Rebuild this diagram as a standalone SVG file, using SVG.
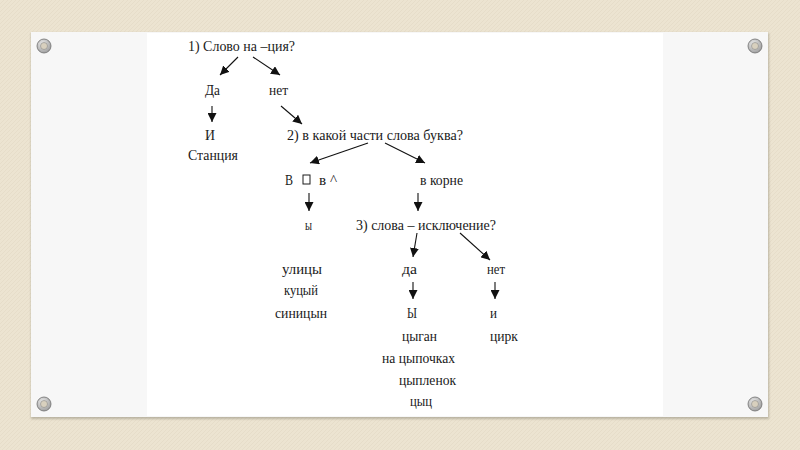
<svg xmlns="http://www.w3.org/2000/svg" width="800" height="450" viewBox="0 0 800 450">
<defs>
<pattern id="canvas" width="4" height="4" patternUnits="userSpaceOnUse">
<rect width="4" height="4" fill="#ece4d1"/>
<path d="M0,4 L4,0" stroke="#e5dcc6" stroke-width="0.8"/>
</pattern>
<radialGradient id="grom" cx="0.4" cy="0.35" r="0.7">
<stop offset="0" stop-color="#eeeeee"/>
<stop offset="1" stop-color="#9a9a9a"/>
</radialGradient>
<marker id="ah" viewBox="0 0 10 10" refX="10" refY="5" markerWidth="9" markerHeight="9" markerUnits="userSpaceOnUse" orient="auto">
<path d="M0,0 L10,5 L0,10 z" fill="#111"/>
</marker>
<filter id="sh" x="-5%" y="-5%" width="110%" height="115%">
<feGaussianBlur stdDeviation="1.2"/>
</filter>
</defs>
<style>
text{font-family:"Liberation Serif","Times New Roman",serif;font-size:14.5px;fill:#1a1a1a}
.c line{stroke:#111;stroke-width:1.1;marker-end:url(#ah)}
.g1{fill:url(#grom);stroke:#6f6f6f;stroke-width:0.8}
.g2{fill:#d8d0be;stroke:#8a8a8a;stroke-width:0.6}
</style>
<rect width="800" height="450" fill="url(#canvas)"/>
<rect x="31" y="33" width="738" height="386" fill="#9a9484" opacity="0.6" filter="url(#sh)"/>
<rect x="31" y="32" width="737" height="385" fill="#f7f7f7"/>
<rect x="147" y="33" width="516" height="383" fill="#ffffff"/>
<g id="grommets">
<circle class="g1" cx="44" cy="46" r="7"/><circle class="g2" cx="44" cy="46" r="3.5"/>
<circle class="g1" cx="755" cy="46" r="7"/><circle class="g2" cx="755" cy="46" r="3.5"/>
<circle class="g1" cx="44" cy="404" r="7"/><circle class="g2" cx="44" cy="404" r="3.5"/>
<circle class="g1" cx="755" cy="404" r="7"/><circle class="g2" cx="755" cy="404" r="3.5"/>
</g>
<g id="q1"><text x="188" y="51" textLength="107" lengthAdjust="spacingAndGlyphs">1) Слово на –ция?</text></g>
<g id="da1"><text x="205" y="95" textLength="15" lengthAdjust="spacingAndGlyphs">Да</text></g>
<g id="net1"><text x="269" y="95" textLength="19" lengthAdjust="spacingAndGlyphs">нет</text></g>
<g id="i1"><text x="205" y="140" textLength="10" lengthAdjust="spacingAndGlyphs">И</text>
<text x="188" y="160" textLength="50" lengthAdjust="spacingAndGlyphs">Станция</text></g>
<g id="q2"><text x="287" y="140" textLength="176" lengthAdjust="spacingAndGlyphs">2) в какой части слова буква?</text></g>
<g id="suffix"><text x="285" y="185" textLength="8" lengthAdjust="spacingAndGlyphs">В</text>
<rect x="303" y="175" width="7" height="9" fill="none" stroke="#1c1c1c" stroke-width="1"/>
<text x="319" y="185" textLength="18" lengthAdjust="spacingAndGlyphs">в ^</text></g>
<g id="root"><text x="420" y="185" textLength="43" lengthAdjust="spacingAndGlyphs">в корне</text></g>
<g id="y1"><text x="305" y="230" textLength="7" lengthAdjust="spacingAndGlyphs">ы</text>
<text x="282" y="274" textLength="40" lengthAdjust="spacingAndGlyphs">улицы</text>
<text x="284" y="295" textLength="34" lengthAdjust="spacingAndGlyphs">куцый</text>
<text x="275" y="318" textLength="52" lengthAdjust="spacingAndGlyphs">синицын</text></g>
<g id="q3"><text x="356" y="230" textLength="140" lengthAdjust="spacingAndGlyphs">3) слова – исключение?</text></g>
<g id="da2"><text x="402" y="274" textLength="15" lengthAdjust="spacingAndGlyphs">да</text></g>
<g id="net2"><text x="487" y="274" textLength="18" lengthAdjust="spacingAndGlyphs">нет</text></g>
<g id="Y"><text x="407" y="318" textLength="10" lengthAdjust="spacingAndGlyphs">Ы</text>
<text x="402" y="341" textLength="35" lengthAdjust="spacingAndGlyphs">цыган</text>
<text x="382" y="363" textLength="73" lengthAdjust="spacingAndGlyphs">на цыпочках</text>
<text x="399" y="385" textLength="57" lengthAdjust="spacingAndGlyphs">цыпленок</text>
<text x="410" y="406" textLength="22" lengthAdjust="spacingAndGlyphs">цыц</text></g>
<g id="I2"><text x="490" y="318" textLength="7" lengthAdjust="spacingAndGlyphs">и</text>
<text x="490" y="341" textLength="28" lengthAdjust="spacingAndGlyphs">цирк</text></g>
<g id="connectors" class="c">
<line x1="238" y1="57" x2="220" y2="75"/>
<line x1="253" y1="57" x2="280" y2="75"/>
<line x1="212" y1="106" x2="212" y2="122"/>
<line x1="281" y1="106" x2="302" y2="124"/>
<line x1="368" y1="143" x2="310" y2="163"/>
<line x1="385" y1="143" x2="425" y2="163"/>
<line x1="309" y1="193" x2="309" y2="211"/>
<line x1="418" y1="193" x2="418" y2="211"/>
<line x1="417" y1="233" x2="413" y2="257"/>
<line x1="460" y1="233" x2="490" y2="260"/>
<line x1="413" y1="282" x2="413" y2="299"/>
<line x1="495" y1="282" x2="495" y2="299"/>
</g>
</svg>
